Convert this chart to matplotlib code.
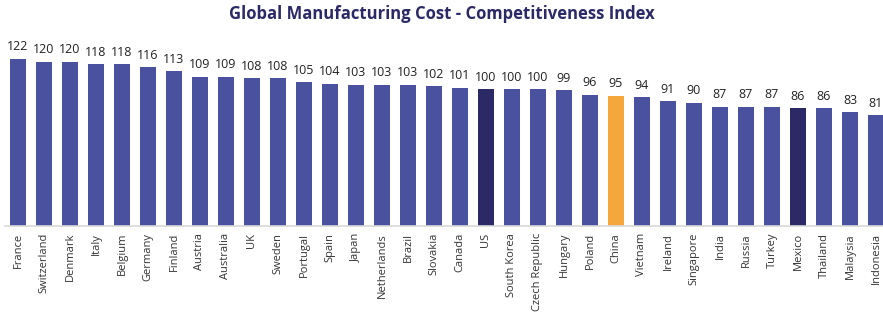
import matplotlib
matplotlib.use("Agg")
import matplotlib.pyplot as plt

countries = ['France', 'Switzerland', 'Denmark', 'Italy', 'Belgium', 'Germany', 'Finland',
             'Austria', 'Australia', 'UK', 'Sweden', 'Portugal', 'Spain', 'Japan',
             'Netherlands', 'Brazil', 'Slovakia', 'Canada', 'US', 'South Korea',
             'Czech Republic', 'Hungary', 'Poland', 'China', 'Vietnam', 'Ireland',
             'Singapore', 'India', 'Russia', 'Turkey', 'Mexico', 'Thailand', 'Malaysia',
             'Indonesia']
index_values = [122, 120, 120, 118, 118, 116, 113, 109, 109, 108, 108, 105, 104, 103,
                103, 103, 102, 101, 100, 100, 100, 99, 96, 95, 94, 91, 90, 87, 87, 87,
                86, 86, 83, 81]
highlight_dark = ['US', 'Mexico']
highlight_orange = ['China']

c_base = '#4a519e'
c_dark = '#2b2a66'
c_orange = '#f6a73b'
colors = []
for c in countries:
    if c in highlight_dark:
        colors.append(c_dark)
    elif c in highlight_orange:
        colors.append(c_orange)
    else:
        colors.append(c_base)

W, H = 883, 314
fig = plt.figure(figsize=(W / 100, H / 100), dpi=100)
ax = fig.add_axes([5 / W, 88 / H, 878 / W, 178 / H])

x = range(len(countries))
bars = ax.bar(x, index_values, width=0.62, color=colors)
for xi, v in zip(x, index_values):
    ax.annotate(str(v), (xi, v), xytext=(0, 4), textcoords='offset points',
                ha='center', va='bottom', fontsize=9, color='#222222',
                family='Open Sans')

ax.set_xlim(-0.5, 33.27)
ax.set_ylim(0, 130)
ax.set_xticks(list(x))
ax.set_xticklabels(countries, rotation=90, fontsize=8, family='Open Sans', color='#333333')
ax.tick_params(axis='x', length=0, pad=5)
ax.set_yticks([])
for s in ['top', 'right', 'left']:
    ax.spines[s].set_visible(False)
ax.spines['bottom'].set_color('#d9d9d9')
ax.spines['bottom'].set_linewidth(1.2)

fig.text(0.5, 1 - 14 / H, 'Global Manufacturing Cost - Competitiveness Index',
         ha='center', va='center', fontsize=12, fontweight='bold', color='#2b2a66',
         family='Open Sans')

fig.savefig('out.png', dpi=100)
